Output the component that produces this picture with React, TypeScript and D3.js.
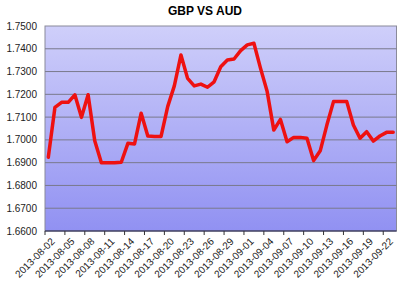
import React from "react";
import * as d3 from "d3";

const title = "GBP VS AUD";
const startDate = "2013-08-02";
const rates = [
  1.6924, 1.7143, 1.7165, 1.7165, 1.7198, 1.7099, 1.7198, 1.6996, 1.6900, 1.6900,
  1.6900, 1.6902, 1.6985, 1.6982, 1.7117, 1.7017, 1.7015, 1.7015, 1.7146, 1.7237,
  1.7373, 1.7270, 1.7237, 1.7245, 1.7231, 1.7255, 1.7321, 1.7351, 1.7355, 1.7392,
  1.7417, 1.7424, 1.7314, 1.7212, 1.7043, 1.7090, 1.6992, 1.7011, 1.7011, 1.7007,
  1.6909, 1.6952, 1.7065, 1.7168, 1.7168, 1.7168, 1.7065, 1.7007, 1.7036, 1.6995,
  1.7017, 1.7033, 1.7033,
];
const yTicks = [1.66, 1.67, 1.68, 1.69, 1.7, 1.71, 1.72, 1.73, 1.74, 1.75];

const fmt = d3.utcFormat("%Y-%m-%d");
const start = d3.utcParse("%Y-%m-%d")(startDate) as Date;
const dates = rates.map((_, i) => fmt(d3.utcDay.offset(start, i)));

export default function App() {
  const W = 410, H = 286;
  const left = 45, right = 396.5, top = 26, bottom = 231;
  const x = d3.scaleBand<string>().domain(dates).range([left, right]).padding(0);
  const y = d3.scaleLinear().domain([1.66, 1.75]).range([bottom, top]);
  const cx = (d: string) => (x(d) as number) + x.bandwidth() / 2;
  const line = d3
    .line<number>()
    .x((_, i) => cx(dates[i]))
    .y((v) => y(v));
  const tickIdx = dates.map((_, i) => i).filter((i) => i % 3 === 0);
  return (
    <svg width={W} height={H} style={{ position: "absolute", left: 0, top: 0, fontFamily: "Arial, 'Liberation Sans', sans-serif" }}>
      <defs>
        <linearGradient id="bg" x1="0" y1="0" x2="0" y2="1">
          <stop offset="0" stopColor="#cfcffa" />
          <stop offset="1" stopColor="#9191f2" />
        </linearGradient>
      </defs>
      <rect x={0} y={0} width={W} height={H} fill="#fff" />
      <text x={205} y={15} textAnchor="middle" fontSize={12} fontWeight="bold" fill="#000">
        {title}
      </text>
      <rect x={left} y={top} width={right - left} height={bottom - top} fill="url(#bg)" stroke="#8a8a9a" strokeWidth={1} />
      {yTicks.map((t) => (
        <g key={t}>
          {t > 1.66 && t < 1.75 && (
            <line x1={left} x2={right} y1={y(t)} y2={y(t)} stroke="#7a7a8c" strokeWidth={1} />
          )}
          <text x={37} y={y(t) + 3.5} textAnchor="end" fontSize={10} fill="#222">
            {t.toFixed(4)}
          </text>
        </g>
      ))}
      <line x1={left} x2={right} y1={bottom} y2={bottom} stroke="#1a1a40" strokeWidth={1.2} />
      {tickIdx.map((i) => (
        <line key={"t" + i} x1={x(dates[i]) as number} x2={x(dates[i]) as number} y1={bottom} y2={bottom + 4} stroke="#333" strokeWidth={1} />
      ))}
      {tickIdx.map((i) => (
        <text
          key={"l" + i}
          transform={`translate(${cx(dates[i]) + 2},${bottom + 6}) rotate(-45)`}
          textAnchor="end"
          dominantBaseline="hanging"
          fontSize={10}
          fill="#222"
        >
          {dates[i]}
        </text>
      ))}
      <path d={line(rates) || ""} fill="none" stroke="#ee1111" strokeWidth={3.5} strokeLinejoin="round" strokeLinecap="round" />
    </svg>
  );
}
